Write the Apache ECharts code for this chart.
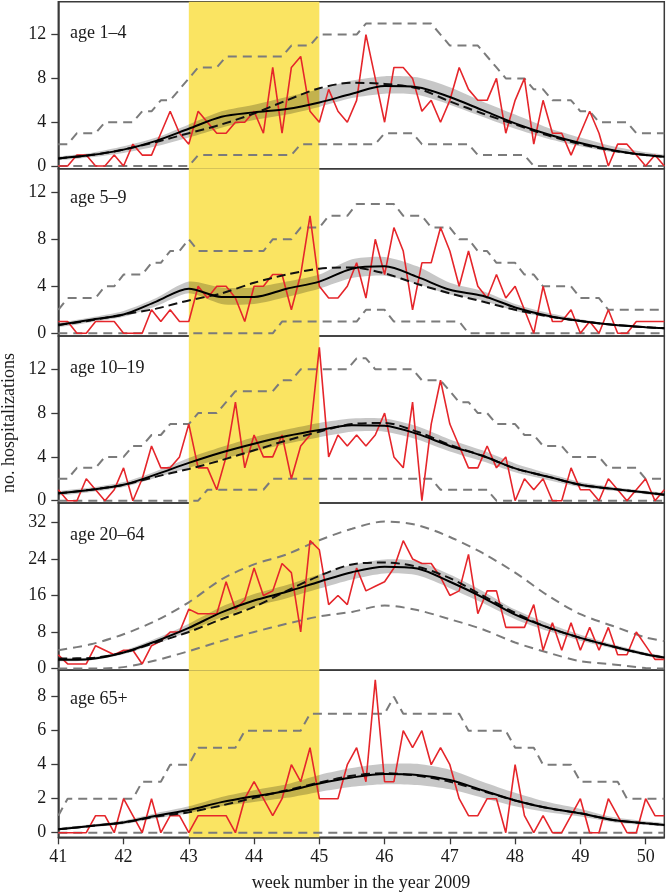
<!DOCTYPE html>
<html><head><meta charset="utf-8">
<script src="https://cdn.jsdelivr.net/npm/echarts@6/dist/echarts.min.js"></script>
<style>html,body{margin:0;padding:0;background:#fff}#c{width:666px;height:894px}</style>
</head><body><div id="c"></div>
<script>
// ---------- data ----------
const xTickValues = [41,42,43,44,45,46,47,48,49,50];
const curveWeeks = [41,41.5,42,42.5,43,43.5,44,44.5,45,45.5,46,46.5,47,47.5,48,48.5,49,49.5,50,50.286];
const panelLabels = ['age 1\u20134','age 5\u20139','age 10\u201319','age 20\u201364','age 65+'];
const yTicks1 = [0,4,8,12], yTicks2 = [0,4,8,12], yTicks3 = [0,4,8,12], yTicks4 = [0,8,16,24,32], yTicks5 = [0,2,4,6,8];

// daily observed counts (one value per day from week 41)
const red1 = [0,0,1,1,0,0,1,0,2,1, 1,3,5,3,2,5,4,3,3,4, 4,5,3,9,3,9,10,5,4,7, 5,4,6,12,8,4,9,9,8,5, 6,4,6,9,7,6,6,8,3,6, 8,2,6,3,3,1,3,5,3,0, 2,2,1,0,1,0];
const upper1 = [2,2,3,3,3,4,4,4,4,5, 5,6,6,7,8,9,9,9,10,10, 10,10,10,10,10,11,11,11,12,12, 12,12,12,13,13,13,13,13,13,13, 13,12,11,11,11,11,10,9,8,8, 8,7,7,6,6,6,5,5,4,4, 4,4,3,3,3,3];
const lower1 = [0,0,0,0,0,0,0,0,0,0, 0,0,0,0,0,1,1,1,1,1, 1,1,1,1,1,1,2,2,2,2, 2,2,2,2,2,3,3,3,3,2, 2,2,2,2,2,1,1,1,1,1, 1,0,0,0,0,0,0,0,0,0, 0,0,0,0,0,0];
const fit1 = [0.7,1.0,1.5,2.3,3.4,4.5,4.9,5.2,5.8,6.6,7.3,7.2,6.3,5.1,3.9,2.9,2.1,1.45,1.0,0.85];
const alt1 = [0.7,1.0,1.5,2.2,3.0,3.8,4.8,6.0,7.1,7.6,7.5,7.1,5.9,4.8,3.8,2.8,2.0,1.4,1.0,0.85];
const bandLo1 = [0.55,0.8,1.2,1.8,2.6,3.5,4.2,4.7,5.4,6.2,6.6,6.5,5.6,4.5,3.4,2.5,1.8,1.25,0.9,0.75];
const bandHi1 = [0.85,1.2,1.8,2.6,3.8,5.0,5.6,6.3,7.0,7.8,8.2,8.1,7.2,5.9,4.7,3.5,2.6,1.8,1.25,1.0];

const red2 = [1,1,0,0,1,1,1,0,0,0, 2,1,2,1,1,4,3,4,4,3, 1,4,4,5,5,2,5,10,4,3, 3,4,6,3,8,5,9,7,2,6, 6,9,7,4,7,4,3,5,3,4, 2,0,4,1,1,2,0,1,0,2, 0,0,1,1,1,1];
const upper2 = [2,3,3,3,3,4,4,5,5,5, 6,6,7,7,8,7,7,7,7,7, 7,7,7,8,8,8,9,9,9,10, 10,10,11,11,11,11,11,10,10,10, 9,9,9,8,8,7,7,6,6,6, 5,5,4,4,4,4,3,3,3,2, 2,2,2,2,2,2];
const lower2 = [0,0,0,0,0,0,0,0,0,0, 0,0,0,0,0,0,0,0,0,0, 0,0,0,0,1,1,1,1,1,1, 1,1,1,2,2,2,1,1,1,1, 1,1,1,1,0,0,0,0,0,0, 0,0,0,0,0,0,0,0,0,0, 0,0,0,0,0,0];
const fit2 = [0.7,1.15,1.6,2.7,3.8,3.1,3.1,3.8,4.4,5.5,5.7,4.8,3.7,3.2,2.2,1.5,1.05,0.72,0.52,0.43];
const alt2 = [0.7,1.1,1.6,2.1,2.8,3.4,4.3,5.0,5.5,5.6,5.1,4.2,3.4,2.7,2.0,1.45,1.05,0.72,0.52,0.43];
const bandLo2 = [0.55,0.95,1.4,2.3,3.4,2.5,2.5,3.1,3.8,4.7,4.9,4.2,3.3,2.8,1.9,1.35,0.95,0.65,0.47,0.4];
const bandHi2 = [0.85,1.35,1.9,3.0,4.4,3.9,3.9,4.4,5.0,6.3,6.5,5.7,4.3,3.6,2.5,1.75,1.2,0.8,0.57,0.47];

const red3 = [1,0,0,2,1,0,1,3,0,2, 5,3,3,4,7,3,3,1,4,9, 3,6,4,4,6,2,5,6,14,4, 6,5,6,5,6,8,4,3,9,0, 7,11,7,5,3,3,5,3,4,0, 2,1,2,0,0,3,1,1,0,2, 1,0,1,2,0,1];
const upper3 = [2,2,3,3,3,4,4,4,5,5, 6,6,7,7,7,8,8,8,9,10, 10,10,10,10,11,11,12,12,12,12, 12,12,13,13,12,12,12,12,12,11, 11,11,10,9,9,8,8,7,7,7, 6,6,5,5,5,4,4,4,4,3, 3,3,3,2,2,2];
const lower3 = [0,0,0,0,0,0,0,0,0,0, 0,0,0,0,0,0,1,1,1,1, 1,1,1,2,2,2,2,2,2,2, 2,2,2,2,2,2,2,2,2,2, 2,1,1,1,1,1,1,0,0,0, 0,0,0,0,0,0,0,0,0,0, 0,0,0,0,0,0];
const fit3 = [0.67,1.0,1.45,2.4,3.45,4.4,5.2,5.9,6.45,6.9,6.85,6.1,5.0,4.1,2.95,2.2,1.45,1.08,0.75,0.55];
const alt3 = [0.67,1.0,1.45,2.2,2.9,3.7,4.6,5.5,6.3,7.0,7.1,6.3,5.1,4.1,2.95,2.2,1.45,1.08,0.75,0.55];
const bandLo3 = [0.5,0.8,1.25,2.1,3.0,3.8,4.5,5.2,5.8,6.3,6.3,5.6,4.5,3.6,2.6,1.9,1.25,0.9,0.6,0.45];
const bandHi3 = [0.85,1.2,1.7,2.7,3.9,4.9,5.8,6.5,7.1,7.5,7.5,6.8,5.6,4.6,3.4,2.5,1.7,1.25,0.9,0.7];

const red4 = [3,1,1,1,5,4,3,4,4,1, 5,6,8,8,13,12,12,12,19,13, 15,22,16,17,23,21,8,28,26,14, 16,14,22,17,18,19,22,28,24,23, 23,20,16,17,25,12,17,17,9,9, 9,14,4,10,4,10,4,9,4,9, 3,3,8,5,2,2];
const upper4 = [4.0,5.3,7.5,10.5,14.5,19.5,22.8,25.0,28.1,30.6,32.2,31.4,28.8,25.3,21.0,16.0,11.9,9.3,6.8,6.0];
const lower4 = [0,0,0.3,1.8,3.8,6.0,8.0,9.8,11.4,12.4,13.8,12.8,10.8,8.6,5.7,3.5,1.6,0.9,0.1,0];
const fit4 = [1.9,2.1,3.5,6.0,8.9,12.3,14.9,16.8,19.0,21.1,22.3,21.9,19.0,15.6,11.8,9.0,6.7,4.8,3.1,2.4];
const alt4 = [2.2,2.3,3.5,5.7,8.0,10.8,13.5,17.0,20.3,22.8,23.2,22.3,19.8,16.0,12.2,9.0,6.7,4.8,3.1,2.4];
const bandLo4 = [1.6,1.8,3.1,5.4,8.1,11.2,13.6,15.4,17.5,19.5,20.8,20.4,17.6,14.4,10.8,8.2,6.1,4.4,2.8,2.1];
const bandHi4 = [2.2,2.4,3.9,6.6,9.8,13.5,16.3,18.3,20.6,22.7,23.9,23.5,20.6,17.0,12.9,9.9,7.4,5.3,3.5,2.7];

const red5 = [0,0,0,0,1,1,0,2,1,0, 2,0,1,1,0,1,1,1,1,0, 2,3,2,1,2,4,3,5,2,2, 2,4,5,3,9,3,3,6,5,6, 4,5,4,2,1,1,2,2,0,4, 1,0,1,0,0,1,2,0,0,2, 1,0,0,2,1,1];
const upper5 = [1,2,2,2,2,2,2,2,2,3, 3,3,4,4,4,5,5,5,5,5, 6,6,6,6,6,6,6,7,7,7, 7,7,7,7,7,7,8,7,7,7, 7,7,7,7,6,6,6,6,6,5, 5,5,4,4,4,4,3,3,3,3, 3,2,2,2,2,2];
const lower5 = [0,0,0,0,0,0,0,0,0,0, 0,0,0,0,0,0,0,0,0,0, 0,0,0,0,0,0,0,0,0,0, 0,0,0,0,0,0,0,0,0,0, 0,0,0,0,0,0,0,0,0,0, 0,0,0,0,0,0,0,0,0,0, 0,0,0,0,0,0];
const fit5 = [0.2,0.4,0.6,1.0,1.33,1.8,2.15,2.45,2.9,3.25,3.45,3.4,3.1,2.5,1.9,1.45,1.14,0.75,0.55,0.45];
const alt5 = [0.2,0.4,0.6,0.95,1.2,1.6,2.05,2.5,2.95,3.35,3.5,3.35,3.0,2.45,1.9,1.45,1.14,0.75,0.55,0.45];
const bandLo5 = [0.15,0.33,0.5,0.85,1.15,1.55,1.8,2.05,2.4,2.7,2.85,2.8,2.55,2.05,1.55,1.2,0.95,0.62,0.45,0.38];
const bandHi5 = [0.27,0.48,0.72,1.15,1.55,2.1,2.5,2.85,3.4,3.8,4.05,4.05,3.7,3.0,2.35,1.8,1.4,0.92,0.67,0.55];

// ---------- layout / build ----------
const panels = [
  {red:red1, upper:upper1, lower:lower1, boundsDaily:true, fit:fit1, alt:alt1, lo:bandLo1, hi:bandHi1, ticks:yTicks1, min:-0.25, max:15.0},
  {red:red2, upper:upper2, lower:lower2, boundsDaily:true, fit:fit2, alt:alt2, lo:bandLo2, hi:bandHi2, ticks:yTicks2, min:-0.22, max:14.0},
  {red:red3, upper:upper3, lower:lower3, boundsDaily:true, fit:fit3, alt:alt3, lo:bandLo3, hi:bandHi3, ticks:yTicks3, min:-0.21, max:15.05},
  {red:red4, upper:upper4, lower:lower4, boundsDaily:false, fit:fit4, alt:alt4, lo:bandLo4, hi:bandHi4, ticks:yTicks4, min:-0.35, max:36.25},
  {red:red5, upper:upper5, lower:lower5, boundsDaily:true, fit:fit5, alt:alt5, lo:bandLo5, hi:bandHi5, ticks:yTicks5, min:-0.27, max:9.56}
];
const gridTops = [1.7, 168.8, 335.9, 503.0, 670.2];
const gridH = 167.1;
const labelY = [34.3, 199.3, 369.3, 536.7, 700];
const FONT = 'Liberation Serif';
const daily = arr => arr.map((v,i)=>[41 + i/7, v]);
const curve = arr => arr.map((v,i)=>[curveWeeks[i], v]);

const grids = [], xAxes = [], yAxes = [], series = [], graphics = [];
panels.forEach((p, i) => {
  grids.push({left:58.3, width:606, top:gridTops[i], height:gridH, show:true, borderColor:'#3a3a3a', borderWidth:1.5, backgroundColor:'transparent', containLabel:false, outerBoundsMode:'none'});
  const last = i === 4;
  xAxes.push({type:'value', gridIndex:i, min:41, max:50.286, show:last,
    axisLine:{show:true, onZero:false, lineStyle:{color:'#3a3a3a', width:1.5}},
    splitLine:{show:false},
    axisTick:{show:true, inside:false, length:7, lineStyle:{color:'#3a3a3a', width:1.3}, customValues:xTickValues},
    axisLabel:{show:true, margin:11, fontFamily:FONT, fontSize:18, color:'#1a1a1a', customValues:xTickValues}
  });
  yAxes.push({type:'value', gridIndex:i, min:p.min, max:p.max,
    axisLine:{show:true, onZero:false, lineStyle:{color:'#3a3a3a', width:1.5}},
    splitLine:{show:false},
    axisTick:{show:true, inside:false, length:7, lineStyle:{color:'#3a3a3a', width:1.3}, customValues:p.ticks},
    axisLabel:{show:true, margin:12, fontFamily:FONT, fontSize:18, color:'#1a1a1a', customValues:p.ticks}
  });
  const common = {xAxisIndex:i, yAxisIndex:i, symbol:'none', silent:true, animation:false};
  const sm = 0.3;
  // yellow highlighted period (host series invisible)
  series.push(Object.assign({type:'line', data:curve(p.fit), lineStyle:{opacity:0}, z:1,
    markArea:{silent:true, itemStyle:{color:'#fae462'}, data:[[{xAxis:43},{xAxis:45}]]}}, common));
  // grey confidence band as one smoothed polygon built through the axes
  series.push({type:'custom', xAxisIndex:i, yAxisIndex:i, silent:true, animation:false, z:2, clip:true,
    data:curveWeeks.map((w,j)=>[w, p.lo[j], p.hi[j]]),
    encode:{x:0, y:[1,2]},
    renderItem:(params, api) => {
      if (params.dataIndex !== 0) return null;
      const pts = [];
      for (let j = 0; j < curveWeeks.length; j++) pts.push(api.coord([curveWeeks[j], p.hi[j]]));
      for (let j = curveWeeks.length - 1; j >= 0; j--) pts.push(api.coord([curveWeeks[j], p.lo[j]]));
      return {type:'polygon', shape:{points:pts, smooth:0.25}, style:{fill:'rgba(0,0,0,0.22)'}};
    }
  });
  const boundStyle = {color:'#7b7b7b', width:2, type:[9,6]};
  const bu = p.boundsDaily ? daily(p.upper) : curve(p.upper);
  const bl = p.boundsDaily ? daily(p.lower) : curve(p.lower);
  series.push(Object.assign({type:'line', data:bu, smooth:p.boundsDaily?false:sm, lineStyle:boundStyle, z:3}, common));
  series.push(Object.assign({type:'line', data:bl, smooth:p.boundsDaily?false:sm, lineStyle:boundStyle, z:3}, common));
  series.push(Object.assign({type:'line', data:daily(p.red), lineStyle:{color:'#e5262b', width:1.6}, z:4}, common));
  series.push(Object.assign({type:'line', data:curve(p.alt), smooth:sm, lineStyle:{color:'#111', width:2, type:[9,5]}, z:5}, common));
  series.push(Object.assign({type:'line', data:curve(p.fit), smooth:sm, lineStyle:{color:'#000', width:2}, z:6}, common));
  graphics.push({type:'text', left:70, top:labelY[i]-10, style:{text:panelLabels[i], font:'18px "Liberation Serif"', fill:'#1a1a1a'}, z:10});
});
graphics.push({type:'text', x:9, y:423, rotation:Math.PI/2, style:{text:'no. hospitalizations', font:'18px "Liberation Serif"', fill:'#1a1a1a', textAlign:'center', textVerticalAlign:'middle'}, z:10});
graphics.push({type:'text', x:361, y:883, style:{text:'week number in the year 2009', font:'18px "Liberation Serif"', fill:'#1a1a1a', textAlign:'center', textVerticalAlign:'middle'}, z:10});

const chart = echarts.init(document.getElementById('c'), null, {renderer:'canvas'});
chart.setOption({animation:false, backgroundColor:'#fff', grid:grids, xAxis:xAxes, yAxis:yAxes, series:series, graphic:graphics});
</script></body></html>
